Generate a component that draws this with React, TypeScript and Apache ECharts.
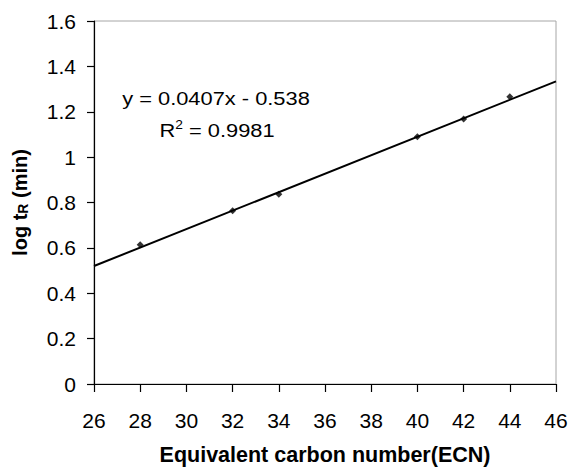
import React, { useEffect, useRef } from "react";
import * as echarts from "echarts";

const ecnValues = [28, 32, 34, 40, 42, 44];
const logTrValues = [0.614, 0.764, 0.836, 1.09, 1.168, 1.266];
const fitX = [26, 46];
const fitY = [0.52, 1.334];
const equationLine = "y = 0.0407x - 0.538";
const r2Value = "0.9981";
const xAxisTitle = "Equivalent carbon number(ECN)";

const FONT = "'Liberation Sans', Arial, Helvetica, sans-serif";

export default function App() {
  const ref = useRef<HTMLDivElement>(null);
  useEffect(() => {
    if (!ref.current) return;
    document.body.style.margin = "0";
    document.body.style.overflow = "hidden";
    document.documentElement.style.overflow = "hidden";
    const chart = echarts.init(ref.current, null, { renderer: "svg" });
    const option: any = {
      animation: false,
      backgroundColor: "#ffffff",
      grid: {
        left: 94,
        top: 21,
        right: 13,
        bottom: 83,
        containLabel: false,
        outerBoundsMode: "none",
        show: true,
        borderColor: "#a6a6a6",
        borderWidth: 1,
        backgroundColor: "transparent",
      },
      xAxis: {
        type: "value",
        min: 26,
        max: 46,
        interval: 2,
        name: xAxisTitle,
        nameLocation: "middle",
        nameGap: 61,
        nameTextStyle: { fontFamily: FONT, fontSize: 21.5, lineHeight: 20, fontWeight: "bold", color: "#000" },
        axisLine: { show: true, onZero: false, lineStyle: { color: "#000", width: 1.2 } },
        axisTick: { show: true, inside: false, length: 8, lineStyle: { color: "#000", width: 1.2 } },
        axisLabel: { fontFamily: FONT, fontSize: 21, color: "#000", margin: 26 },
        splitLine: { show: false },
      },
      yAxis: {
        type: "value",
        min: 0,
        max: 1.6,
        interval: 0.2,
        name: "log t{r|R} (min)",
        nameLocation: "middle",
        nameGap: 64,
        nameRotate: 90,
        nameTextStyle: {
          fontFamily: FONT,
          fontSize: 20,
          fontWeight: "bold",
          color: "#000",
          rich: {
            r: { fontFamily: FONT, fontSize: 14, fontWeight: "bold", color: "#000", verticalAlign: "bottom", padding: [4, 0, 0, 0] },
          },
        },
        axisLine: { show: true, onZero: false, lineStyle: { color: "#000", width: 1.2 } },
        axisTick: { show: true, inside: false, length: 7, lineStyle: { color: "#000", width: 1.2 } },
        axisLabel: { fontFamily: FONT, fontSize: 21, color: "#000", margin: 18 },
        splitLine: { show: false },
      },
      series: [
        {
          type: "line",
          data: fitX.map((x, i) => [x, fitY[i]]),
          showSymbol: false,
          symbol: "none",
          lineStyle: { color: "#000", width: 2 },
          z: 2,
        },
        {
          type: "scatter",
          data: ecnValues.map((x, i) => [x, logTrValues[i]]),
          symbol: "diamond",
          symbolSize: 7,
          itemStyle: { color: "#000" },
          z: 3,
        },
      ],
      graphic: [
        {
          type: "text",
          x: 216,
          y: 98,
          scaleX: 1.15,
          style: {
            text: equationLine,
            fontFamily: FONT,
            fontSize: 19,
            fill: "#000",
            align: "center",
            verticalAlign: "middle",
          },
        },
        {
          type: "text",
          x: 217,
          y: 130,
          scaleX: 1.15,
          style: {
            text: "R{s|2} = " + r2Value,
            fontFamily: FONT,
            fontSize: 19,
            fill: "#000",
            align: "center",
            verticalAlign: "middle",
            rich: {
              s: { fontFamily: FONT, fontSize: 12, fill: "#000", padding: [0, 0, 10, 0] },
            },
          },
        },
      ],
    };
    chart.setOption(option);
    return () => chart.dispose();
  }, []);
  return (
    <div style={{ width: 569, height: 467, overflow: "hidden", position: "relative" }}>
      <div ref={ref} style={{ width: 569, height: 467 }} />
    </div>
  );
}
